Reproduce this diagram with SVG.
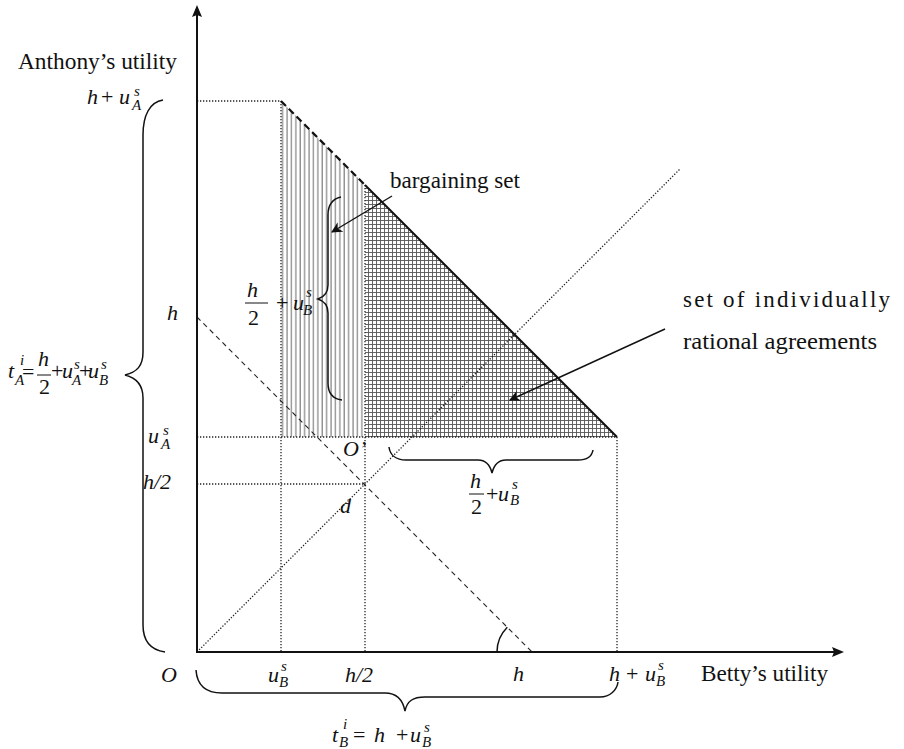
<svg xmlns="http://www.w3.org/2000/svg" width="904" height="749" viewBox="0 0 904 749">
<style>
.t{font-family:"Liberation Serif","Times New Roman",serif;font-size:23px;fill:#111}
.m{font-family:"Liberation Serif","Times New Roman",serif;font-size:22px;font-style:italic;fill:#111}
.p{font-family:"Liberation Serif","Times New Roman",serif;font-size:22px;fill:#111}
.sm{font-size:15px}
.dot{stroke:#222;stroke-width:1.3;stroke-dasharray:1.3 1.7;fill:none}
.dash{stroke:#222;stroke-width:1.1;stroke-dasharray:5 4;fill:none}
.br{stroke:#111;stroke-width:1.5;fill:none}
.ax{stroke:#111;stroke-width:2;fill:none}
</style>
<defs>
<pattern id="vh" width="4.4" height="10" patternUnits="userSpaceOnUse"><line x1="1" y1="0" x2="1" y2="10" stroke="#555" stroke-width="0.9"/></pattern>
<pattern id="xh" width="4" height="4" patternUnits="userSpaceOnUse"><path d="M0 0.5H4M0.5 0V4" stroke="#555" stroke-width="0.9"/></pattern>
<marker id="ah" viewBox="0 0 10 10" refX="9" refY="5" markerWidth="11" markerHeight="11" markerUnits="userSpaceOnUse" orient="auto"><path d="M0,0 L10,5 L0,10 L3,5 Z" fill="#111"/></marker>
</defs>
<rect width="904" height="749" fill="#fff"/>

<g id="regions">
<polygon points="281,101 365,185 365,437 281,437" fill="url(#vh)"/>
<polygon points="365,185 617,437 365,437" fill="url(#xh)"/>
</g>

<g id="guides">
<line class="dot" x1="197" y1="101" x2="281" y2="101"/>
<line class="dot" x1="281" y1="101" x2="281" y2="652"/>
<line class="dot" x1="197" y1="437" x2="617" y2="437"/>
<line class="dot" x1="197" y1="484" x2="365" y2="484"/>
<line class="dot" x1="365" y1="185" x2="365" y2="652"/>
<line class="dot" x1="617" y1="437" x2="617" y2="652"/>
<line class="dot" x1="197" y1="652" x2="680" y2="169"/>
<line class="dash" x1="197" y1="317" x2="532" y2="652"/>
</g>

<g id="frontier">
<line x1="281" y1="101" x2="365" y2="185" stroke="#111" stroke-width="2.2" stroke-dasharray="7 4"/>
<line x1="365" y1="185" x2="617" y2="437" stroke="#111" stroke-width="2"/>
</g>

<g id="axes">
<line class="ax" x1="197" y1="653" x2="197" y2="14"/>
<polygon points="197,5 192,17 197,15 202,17" fill="#111"/>
<line class="ax" x1="196" y1="652" x2="836" y2="652"/>
<polygon points="844,652 832,647 834,652 832,657" fill="#111"/>
<path class="br" d="M497,652 A35,35 0 0 1 507.3,627.3"/>
</g>

<g id="connectors">
<line x1="392" y1="196" x2="332" y2="232" stroke="#111" stroke-width="1.4" marker-end="url(#ah)"/>
<line x1="665" y1="329" x2="510" y2="400" stroke="#111" stroke-width="1.4" marker-end="url(#ah)"/>
</g>

<g id="braces">
<path class="br" d="M163,100 C150,102 143,115 143,135 L143,352 C143,366 137,372 125,375 C137,378 143,385 143,398 L143,625 C143,641 151,650 165,652"/>
<path class="br" d="M341,197 C332,199 328,206 328,215 L328,285 C328,293 324,297 318,299 C324,301 328,305 328,313 L328,383 C328,393 333,399 342,400"/>
<path class="br" d="M389,447 C390,455 396,460 406,460 L478,460 C486,460 490,465 492,473 C494,465 498,460 506,460 L578,460 C587,460 592,456 593,450"/>
<path class="br" d="M196,670 C197,685 205,693 222,693 L385,693 C397,693 403,701 405,711 C407,701 413,697 425,697 L600,697 C610,697 617,690 618,682"/>
</g>

<g id="labels">
<text class="t" x="18" y="69" textLength="159" lengthAdjust="spacingAndGlyphs">Anthony’s utility</text>
<text class="t" x="701" y="681" textLength="127" lengthAdjust="spacingAndGlyphs">Betty’s utility</text>
<text class="t" x="390" y="188" textLength="130" lengthAdjust="spacingAndGlyphs">bargaining set</text>
<text class="t" x="683" y="307" textLength="207" lengthAdjust="spacing">set   of   individually</text>
<text class="t" x="683" y="349" textLength="194" lengthAdjust="spacingAndGlyphs">rational agreements</text>

<g id="lbl-hua">
<text class="m" x="87" y="104">h</text>
<text class="p" x="101" y="104">+</text>
<text class="m" x="119" y="104">u</text>
<text class="m sm" x="134" y="96">s</text>
<text class="m sm" x="132" y="110">A</text>
</g>
<text class="m" x="167" y="320">h</text>
<g id="lbl-ua">
<text class="m" x="148" y="443">u</text>
<text class="m sm" x="163" y="435">s</text>
<text class="m sm" x="161" y="449">A</text>
</g>
<text class="m" x="143" y="489">h/2</text>
<text class="m" x="161" y="682">O</text>

<g id="lbl-tA">
<text class="m" x="8" y="378">t</text>
<text class="m sm" x="20" y="365">i</text>
<text class="m sm" x="15" y="385">A</text>
<text class="p" x="22" y="379">=</text>
<text class="m" x="38" y="366">h</text>
<line x1="37" y1="375" x2="51" y2="375" stroke="#111" stroke-width="1"/>
<text class="p" x="39" y="394">2</text>
<text class="p" x="51" y="378">+</text>
<text class="m" x="62" y="378">u</text>
<text class="m sm" x="74" y="369">s</text>
<text class="m sm" x="72" y="385">A</text>
<text class="p" x="79" y="378">+</text>
<text class="m" x="88" y="378">u</text>
<text class="m sm" x="101" y="369">s</text>
<text class="m sm" x="99" y="385">B</text>
</g>

<g id="lbl-bs">
<text class="m" x="247" y="297">h</text>
<line x1="245" y1="303" x2="268" y2="303" stroke="#111" stroke-width="1"/>
<text class="p" x="248" y="325">2</text>
<text class="p" x="276" y="310">+</text>
<text class="m" x="293" y="310">u</text>
<text class="m sm" x="306" y="297">s</text>
<text class="m sm" x="303" y="315">B</text>
</g>

<text class="m" x="343" y="456">O’</text>
<text class="m" x="340" y="513">d</text>

<g id="lbl-os">
<text class="m" x="470" y="488">h</text>
<line x1="469" y1="494" x2="484" y2="494" stroke="#111" stroke-width="1"/>
<text class="p" x="471" y="514">2</text>
<text class="p" x="486" y="501">+</text>
<text class="m" x="498" y="501">u</text>
<text class="m sm" x="512" y="489">s</text>
<text class="m sm" x="510" y="505">B</text>
</g>

<g id="lbl-ub">
<text class="m" x="268" y="682">u</text>
<text class="m sm" x="281" y="671">s</text>
<text class="m sm" x="279" y="687">B</text>
</g>
<text class="m" x="345" y="682">h/2</text>
<text class="m" x="513" y="681">h</text>
<g id="lbl-hub">
<text class="m" x="609" y="681">h</text>
<text class="p" x="626" y="681">+</text>
<text class="m" x="645" y="681">u</text>
<text class="m sm" x="658" y="670">s</text>
<text class="m sm" x="656" y="686">B</text>
</g>

<g id="lbl-tB">
<text class="m" x="332" y="742">t</text>
<text class="m sm" x="343" y="729">i</text>
<text class="m sm" x="339" y="747">B</text>
<text class="p" x="353" y="742">=</text>
<text class="m" x="374" y="742">h</text>
<text class="p" x="396" y="742">+</text>
<text class="m" x="410" y="742">u</text>
<text class="m sm" x="424" y="732">s</text>
<text class="m sm" x="422" y="747">B</text>
</g>
</g>
</svg>
